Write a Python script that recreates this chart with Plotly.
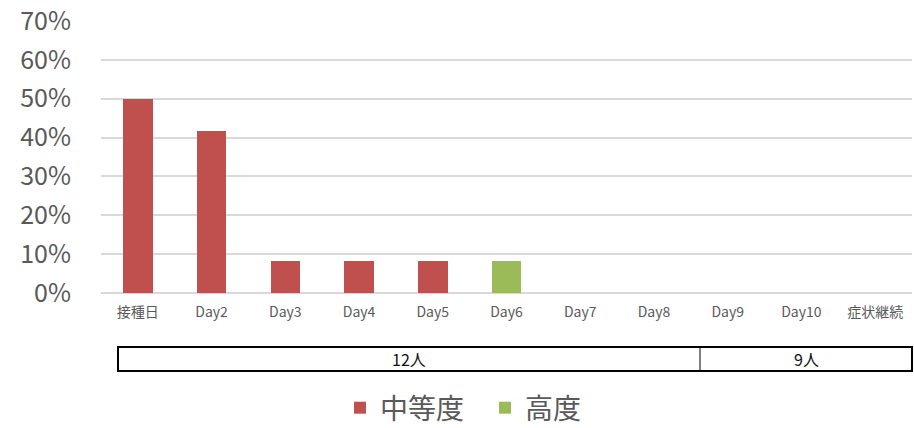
import plotly.graph_objects as go

categories = ["接種日", "Day2", "Day3", "Day4", "Day5", "Day6",
              "Day7", "Day8", "Day9", "Day10", "症状継続"]
moderate = [0.50, 0.417, 0.083, 0.083, 0.083, 0, 0, 0, 0, 0, 0]
severe = [0, 0, 0, 0, 0, 0.083, 0, 0, 0, 0, 0]
series_names = ["中等度", "高度"]
group_labels = ["12人", "9人"]

W, H = 914, 428
L, R, T, B = 101, 2, 21, 135
pw, ph = W - L - R, H - T - B


def px(x):
    return (x - L) / pw


def py(y):
    return (H - B - y) / ph


FONT = "Noto Sans CJK JP"
GRAY = "#595959"

fig = go.Figure()
fig.add_bar(x=categories, y=moderate, name=series_names[0],
            marker=dict(color="#C0504D", line=dict(width=0)))
fig.add_bar(x=categories, y=severe, name=series_names[1],
            marker=dict(color="#9BBB59", line=dict(width=0)))

# group box under the axis
shapes = [
    dict(type="rect", xref="paper", yref="paper",
         x0=px(118), x1=px(912), y0=py(371), y1=py(347),
         line=dict(color="black", width=2)),
    dict(type="line", xref="paper", yref="paper",
         x0=px(700), x1=px(700), y0=py(371), y1=py(347),
         line=dict(color="black", width=1)),
]
annotations = [
    dict(text=group_labels[0], xref="paper", yref="paper",
         x=px(409), y=py(359), xanchor="center", yanchor="middle",
         showarrow=False,
         font=dict(family=FONT, size=16, color="#111111")),
    dict(text=group_labels[1], xref="paper", yref="paper",
         x=px(806), y=py(359), xanchor="center", yanchor="middle",
         showarrow=False,
         font=dict(family=FONT, size=16, color="#111111")),
]

fig.update_layout(
    width=W, height=H,
    margin=dict(l=L, r=R, t=T, b=B, autoexpand=False),
    barmode="stack", bargap=0.6,
    plot_bgcolor="white", paper_bgcolor="white",
    font=dict(family=FONT, color=GRAY),
    shapes=shapes, annotations=annotations,
    legend=dict(orientation="h", x=px(340), xanchor="left",
                y=py(408), yanchor="middle",
                font=dict(family=FONT, size=28, color=GRAY),
                itemsizing="constant", traceorder="normal",
                itemwidth=30, entrywidth=100, entrywidthmode="pixels"),
    xaxis=dict(showgrid=False, showline=False, ticks="",
               tickfont=dict(family=FONT, size=14, color=GRAY),
               ticklabelstandoff=9, fixedrange=True),
    yaxis=dict(range=[0, 0.7], dtick=0.1, tickformat=".0%",
               showgrid=True, gridcolor="#D9D9D9", gridwidth=1.5,
               zeroline=True, zerolinecolor="#D9D9D9", zerolinewidth=1.5,
               showline=False, ticks="",
               tickfont=dict(family=FONT, size=25, color=GRAY),
               ticklabelstandoff=29, fixedrange=True),
)

fig.write_html("out.html")
